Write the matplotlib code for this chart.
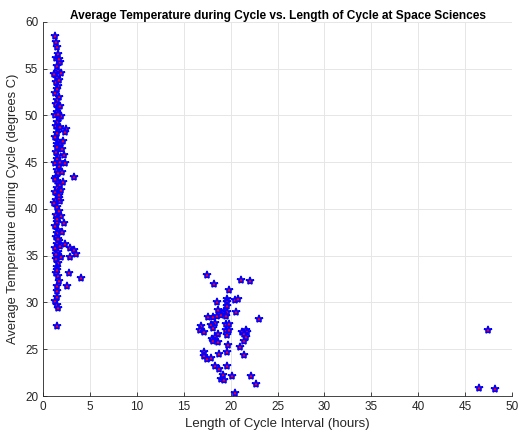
import matplotlib.pyplot as plt

# cycle length (hours) and average temperature during the cycle (degrees C)
short_hours = [
    1.3, 1.5, 1.6, 1.4, 1.8, 1.5, 1.6, 1.2, 1.5, 1.4, 1.6, 1.5, 1.3, 1.7, 1.5,
    1.4, 1.6, 1.5, 1.3, 1.7, 1.5, 1.4, 1.6, 1.8, 1.5, 1.3, 1.6, 1.5, 1.7, 1.4,
    1.6, 1.5, 1.3, 1.7, 1.5, 1.6, 1.4, 1.5, 1.8, 1.5, 1.3, 1.6, 1.4, 1.2, 1.5,
    1.7, 1.4, 1.6, 1.5, 1.3, 1.6, 1.5, 1.4, 1.7, 1.5, 1.3, 1.6, 1.5, 1.4, 1.6,
    1.5, 1.4, 1.6, 1.5, 1.3, 1.9, 1.9, 1.8, 2.0, 1.9, 1.8, 1.9, 2.0, 1.8, 2.2,
    2.4, 2.1, 1.7, 1.7, 1.9, 1.8, 1.4, 1.6, 1.5, 1.3, 1.7, 1.5, 1.6, 1.4, 1.5,
    3.3, 2.3, 2.3, 2.0, 2.1, 1.7, 2.2, 2.3, 2.9, 3.3, 3.5, 2.9, 1.9, 2.8, 4.0,
    1.7, 2.6, 1.5, 1.5, 1.5, 1.6, 1.5,
]
short_temp = [
    58.5, 57.3, 56.6, 56.1, 55.7, 55.3, 54.8, 54.4, 54.0, 53.6, 53.2, 52.8, 52.4, 52.0, 51.6,
    51.2, 50.8, 50.4, 50.0, 49.7, 49.3, 48.9, 48.5, 48.8, 48.1, 47.7, 47.3, 46.9, 46.5, 46.1,
    45.7, 45.3, 44.9, 44.6, 44.2, 43.8, 43.4, 43.0, 42.6, 42.2, 41.8, 41.4, 41.0, 40.6, 40.2,
    39.8, 39.4, 39.0, 38.6, 38.2, 37.8, 37.4, 37.0, 36.6, 36.2, 35.8, 35.4, 35.0, 34.6, 34.2,
    33.8, 33.2, 32.8, 31.2, 30.2, 49.9, 47.0, 45.0, 44.0, 42.0, 40.8, 39.2, 37.5, 36.0, 45.8,
    48.6, 47.3, 53.8, 56.0, 54.5, 51.0, 57.8, 50.2, 46.6, 43.2, 41.2, 38.9, 36.8, 35.2, 33.5,
    43.4, 44.9, 48.2, 46.4, 42.9, 41.5, 38.5, 36.2, 35.8, 35.6, 35.2, 34.9, 34.9, 33.2, 32.6,
    32.3, 31.8, 31.8, 30.6, 29.7, 29.4, 27.5,
]

long_hours = [
    17.45, 18.25, 21.1, 22.1, 19.8, 18.5, 19.56, 20.45, 20.8, 19.56, 19.56, 18.7,
    19.3, 19.6, 20.6, 17.6, 18.15, 18.5, 18.96, 19.46, 23.0, 18.3, 17.9, 16.85,
    19.46, 19.8, 16.7, 17.16, 18.15, 19.46, 19.8, 21.2, 21.65, 21.75, 21.4, 18.7,
    18.3, 19.6, 17.97, 21.6, 18.1, 18.6, 21.4, 19.75, 21.0, 17.16, 17.2, 17.5,
    17.9, 18.75, 19.6, 21.4, 18.3, 18.75, 19.56, 19.2, 20.1, 19.0, 19.3, 22.2,
    22.75, 20.45, 47.45, 46.5, 48.2,
]
long_temp = [
    32.9, 32.0, 32.4, 32.3, 31.3, 30.1, 30.4, 30.3, 30.4, 30.0, 29.6, 29.2,
    29.1, 29.0, 29.0, 28.5, 28.5, 28.6, 28.7, 28.6, 28.2, 27.8, 27.55, 27.5,
    27.7, 27.7, 27.05, 26.8, 27.3, 27.1, 27.1, 26.8, 27.1, 26.8, 26.6, 26.6,
    26.35, 26.5, 26.1, 26.3, 25.9, 25.8, 25.9, 25.5, 25.2, 24.7, 24.3, 24.0,
    24.1, 24.5, 24.7, 24.4, 23.2, 22.9, 23.2, 22.2, 22.1, 21.8, 21.7, 22.1,
    21.25, 20.3, 27.05, 20.85, 20.8,
]

hours = short_hours + long_hours
temp = short_temp + long_temp

plt.rcParams['font.family'] = ['Liberation Sans', 'DejaVu Sans']

fig = plt.figure(figsize=(5.19, 4.32), dpi=100)
ax = fig.add_axes([0.083, 0.0833, 0.9035, 0.866])

ax.plot(hours, temp, linestyle='none', marker='*', markersize=6,
        markerfacecolor='red', markeredgecolor='blue', markeredgewidth=1.1)

ax.set_xlim(0, 50)
ax.set_ylim(20, 60)
ax.set_xticks(range(0, 51, 5))
ax.set_yticks(range(20, 61, 5))

ax.grid(True, color='#e6e6e6', linewidth=0.7)
ax.set_axisbelow(True)
for side in ['top', 'right']:
    ax.spines[side].set_visible(False)
for side in ['left', 'bottom']:
    ax.spines[side].set_color('#262626')
    ax.spines[side].set_linewidth(0.6)
ax.tick_params(direction='in', length=3, width=0.6, color='#262626',
               labelsize=8.5, labelcolor='#262626')

ax.set_title('Average Temperature during Cycle vs. Length of Cycle at Space Sciences',
             fontsize=8.6, fontweight='bold', pad=1.5)
ax.set_xlabel('Length of Cycle Interval (hours)', fontsize=9.5, color='#262626')
ax.set_ylabel('Average Temperature during Cycle (degrees C)', fontsize=9.3, color='#262626')

fig.savefig('out.png', dpi=100)
